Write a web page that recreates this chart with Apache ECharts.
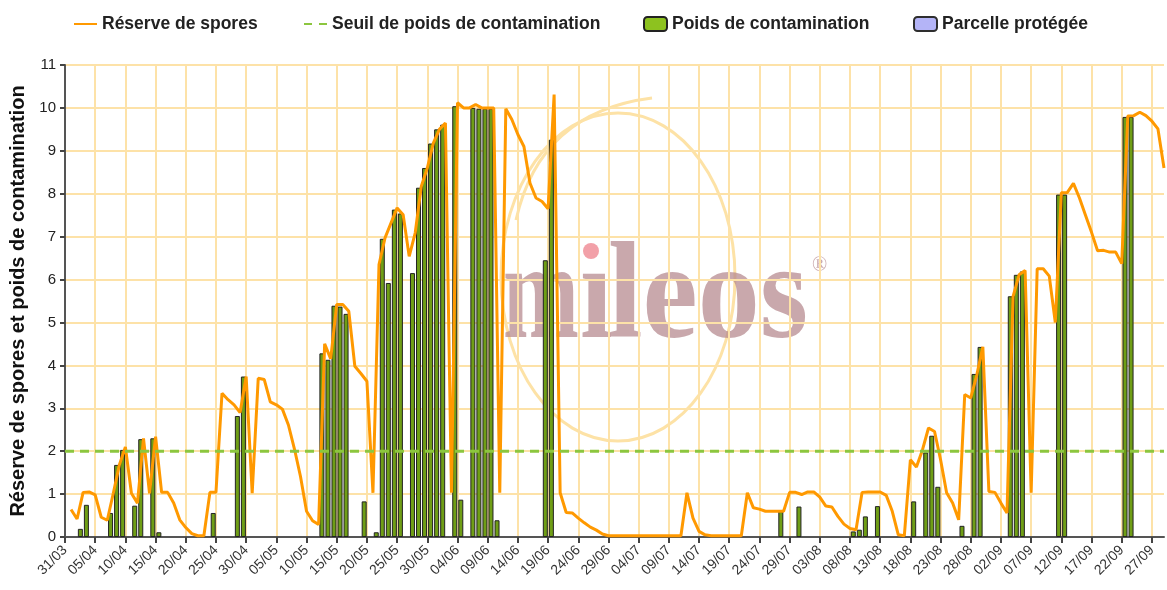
<!DOCTYPE html>
<html>
<head>
<meta charset="utf-8">
<script src="https://cdn.jsdelivr.net/npm/echarts@6/dist/echarts.min.js"></script>
<style>
  html, body { margin: 0; padding: 0; background: #fff; }
  #chart { width: 1167px; height: 590px; }
</style>
</head>
<body>
<div id="chart"></div>
<script>
// jours du 31/03 au 29/09 (axe en catégories, un point par jour)
const jours = [];
for (let i = 0; i < 183; i++) {
    const d = new Date(Date.UTC(2013, 2, 31 + i));
    jours.push(('0' + d.getUTCDate()).slice(-2) + '/' + ('0' + (d.getUTCMonth() + 1)).slice(-2));
}

// Réserve de spores, une valeur par jour (null au 31/03)
const reserveSpores = [
    null,
    0.64, 0.42, 1.04, 1.05, 0.98, 0.46, 0.39, 1.02, 1.68, 2.1,
    1.02, 0.79, 2.3, 1.02, 2.34, 1.04, 1.04, 0.79, 0.4, 0.22,
    0.08, 0.03, 0.03, 1.04, 1.04, 3.35, 3.2, 3.08, 2.9, 3.74,
    1.02, 3.7, 3.67, 3.15, 3.08, 2.98, 2.61, 2.05, 1.41, 0.6,
    0.38, 0.29, 4.5, 4.15, 5.42, 5.42, 5.26, 3.98, 3.81, 3.63,
    1.03, 6.35, 6.97, 7.32, 7.67, 7.51, 6.54, 7.09, 8.17, 8.6,
    9.18, 9.5, 9.65, 1.03, 10.12, 10.0, 10.0, 10.08, 10.0, 10.0,
    10.0, 1.03, 9.98, 9.73, 9.38, 9.1, 8.25, 7.9, 7.82, 7.65,
    10.31, 1.03, 0.57, 0.56, 0.44, 0.33, 0.23, 0.16, 0.07, 0.03,
    0.03, 0.03, 0.03, 0.03, 0.03, 0.03, 0.03, 0.03, 0.03, 0.03,
    0.03, 0.03, 1.03, 0.44, 0.13, 0.05, 0.03, 0.03, 0.03, 0.03,
    0.03, 0.03, 1.03, 0.68, 0.65, 0.6, 0.6, 0.6, 0.6, 1.04,
    1.04, 0.99, 1.05, 1.05, 0.93, 0.72, 0.7, 0.48, 0.3, 0.2,
    0.17, 1.04, 1.05, 1.05, 1.05, 0.97, 0.6, 0.05, 0.03, 1.8,
    1.63, 2.03, 2.54, 2.46, 1.8, 1.03, 0.79, 0.4, 3.32, 3.24,
    3.78, 4.43, 1.06, 1.04, 0.79, 0.56, 5.6, 6.11, 6.21, 1.03,
    6.25, 6.25, 6.08, 5.0, 8.02, 8.03, 8.24, 7.9, 7.5, 7.1,
    6.67, 6.68, 6.64, 6.64, 6.37, 9.81, 9.82, 9.9, 9.82, 9.69,
    9.51, 8.6
];

// Poids de contamination : index du jour et valeur
const poidsJours = [
    3, 4, 8, 9, 10, 12, 13, 15, 16, 25, 29, 30,
    43, 44, 45, 46, 47, 50, 52, 53, 54, 55, 56, 58, 59, 60, 61, 62, 63,
    65, 66, 68, 69, 70, 71, 72, 80, 81,
    119, 122, 131, 132, 133, 135,
    141, 143, 144, 145, 149, 151, 152, 157, 158, 159, 165, 166, 176, 177
];
const poidsValeurs = [
    0.19, 0.75, 0.56, 1.68, 2.03, 0.73, 2.28, 2.3, 0.11, 0.56, 2.82, 3.74,
    4.28, 4.13, 5.39, 5.37, 5.2, 0.83, 0.11, 6.95, 5.92, 7.63, 7.54, 6.15, 8.14, 8.6, 9.17, 9.5, 9.61,
    10.04, 0.87, 10.0, 9.98, 9.98, 9.98, 0.39, 6.45, 9.26,
    0.6, 0.71, 0.13, 0.17, 0.48, 0.72,
    0.83, 1.97, 2.36, 1.17, 0.26, 3.8, 4.43, 5.61, 6.11, 6.19, 7.98, 7.98, 9.79, 9.79
];

// Parcelle protégée : aucune donnée sur la période
const parcelleProtegee = [];

const seuil = 2;

const chart = echarts.init(document.getElementById('chart'));

const fontTxt = 'Liberation Sans, Arial, sans-serif';
const legendText = { fontFamily: fontTxt, fontWeight: 'bold', fontSize: 17.5, color: '#222' };
const logoFont = 'bold 138px "Liberation Serif", "DejaVu Serif", serif';
const logoColor = 'rgba(180,135,140,0.72)';

// une légende par élément pour caler les positions
const makeLegend = (left, item) => ({
    left: left,
    top: 15,
    padding: 0,
    itemWidth: 23,
    itemHeight: 14,
    selectedMode: false,
    textStyle: legendText,
    data: [item]
});

chart.setOption({
    animation: false,
    backgroundColor: '#fff',
    legend: [
        makeLegend(73, { name: 'Réserve de spores', itemStyle: { opacity: 0 } }),
        makeLegend(303, { name: 'Seuil de poids de contamination', itemStyle: { opacity: 0 }, lineStyle: { type: [8, 7] } }),
        makeLegend(643, { name: 'Poids de contamination', itemStyle: { color: '#8DC21F' } }),
        makeLegend(913, { name: 'Parcelle protégée' })
    ],
    grid: { left: 65, right: 3, top: 65, bottom: 53 },
    xAxis: {
        type: 'category',
        data: jours,
        boundaryGap: false,
        axisLine: { lineStyle: { color: '#555', width: 2 } },
        axisTick: { interval: 4, length: 6, lineStyle: { color: '#444', width: 2 } },
        axisLabel: { interval: 4, rotate: 45, margin: 11, fontSize: 14, fontFamily: fontTxt, color: '#333' },
        splitLine: { show: true, interval: 4, lineStyle: { color: '#FDE2A8', width: 2 } }
    },
    yAxis: {
        type: 'value',
        min: 0,
        max: 11,
        interval: 1,
        name: 'Réserve de spores et poids de contamination',
        nameLocation: 'middle',
        nameGap: 36,
        nameTextStyle: { fontFamily: fontTxt, fontWeight: 'bold', fontSize: 20, color: '#111' },
        axisLine: { show: true, lineStyle: { color: '#555', width: 2 } },
        axisTick: { show: true, length: 5, lineStyle: { color: '#444', width: 2 } },
        axisLabel: { fontSize: 15, fontFamily: fontTxt, color: '#222', margin: 9 },
        splitLine: { lineStyle: { color: '#FDE2A8', width: 2 } }
    },
    graphic: [
        {
            type: 'ellipse', z: -1, silent: true,
            shape: { cx: 618, cy: 277, rx: 117, ry: 164 },
            style: { fill: 'none', stroke: '#FDE2A6', lineWidth: 3 }
        },
        {
            type: 'bezierCurve', z: -1, silent: true,
            shape: { x1: 516, y1: 220, x2: 652, y2: 98, cpx1: 540, cpy1: 112 },
            style: { fill: 'none', stroke: '#FDE2A6', lineWidth: 3 }
        },
        {
            type: 'text', z: -1, silent: true,
            x: 503, y: 370, scaleX: 0.66,
            style: { text: 'm', fill: logoColor, font: logoFont, textVerticalAlign: 'bottom' }
        },
        {
            type: 'text', z: -1, silent: true,
            x: 580, y: 370, scaleX: 0.85,
            style: { text: 'ı', fill: logoColor, font: logoFont, textVerticalAlign: 'bottom' }
        },
        {
            type: 'text', z: -1, silent: true,
            x: 608, y: 370, scaleX: 0.9,
            style: { text: 'leos', fill: logoColor, font: logoFont, textVerticalAlign: 'bottom' }
        },
        {
            type: 'circle', z: -1, silent: true,
            shape: { cx: 591, cy: 251, r: 8 },
            style: { fill: '#F2A0A8' }
        },
        {
            type: 'text', z: -1, silent: true,
            x: 812, y: 256,
            style: { text: '®', fill: logoColor, font: '20px "Liberation Serif", serif' }
        }
    ],
    series: [
        {
            name: 'Poids de contamination',
            type: 'bar',
            barWidth: 5,
            z: 2,
            itemStyle: { color: '#6F9E16', borderColor: '#222', borderWidth: 1 },
            data: poidsJours.map((d, i) => [jours[d], poidsValeurs[i]])
        },
        {
            name: 'Parcelle protégée',
            type: 'bar',
            barWidth: 5,
            itemStyle: { color: '#B4B4F7', borderColor: '#2e2e2e', borderWidth: 1 },
            data: parcelleProtegee
        },
        {
            name: 'Réserve de spores',
            type: 'line',
            z: 3,
            symbol: 'none',
            lineStyle: { color: '#FF9900', width: 3 },
            itemStyle: { color: '#FF9900' },
            data: reserveSpores
        },
        {
            name: 'Seuil de poids de contamination',
            type: 'line',
            z: 4,
            symbol: 'none',
            lineStyle: { color: '#8CC63F', width: 3, type: [9, 6] },
            itemStyle: { color: '#8CC63F' },
            data: [[jours[0], seuil], [jours[jours.length - 1], seuil]]
        }
    ]
});
</script>
</body>
</html>
